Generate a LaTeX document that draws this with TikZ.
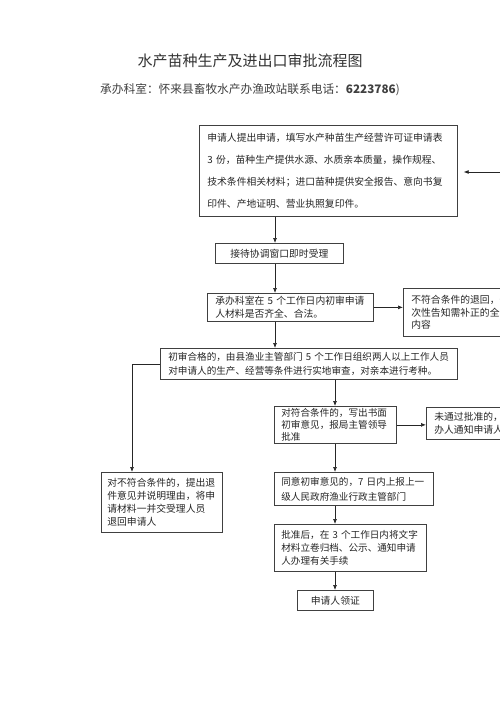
\documentclass[tikz,border=0pt]{standalone}
\usepackage{fontspec}
\setmainfont{Noto Sans CJK SC}
\usetikzlibrary{arrows.meta}
\tikzset{
  stepbox/.style={draw=black!75, line width=0.7pt, inner xsep=8pt, inner ysep=0pt,
    anchor=north west, align=left, text=black!85, font=\fontsize{9.8}{13}\selectfont},
  flow/.style={-{Latex[length=5pt,width=4pt]}, line width=0.7pt, black!85},
}
\begin{document}
\begin{tikzpicture}[x=1pt, y=-1pt]
  \useasboundingbox (0,0) rectangle (500,707);
  \fill[white] (0,0) rectangle (500,707);
  \clip (0,0) rectangle (500,707);
  \node (title) [text=black!80] at (250,61) {\fontsize{15}{15}\selectfont 水产苗种生产及进出口审批流程图};
  \node (phone) [text=black!75] at (250,90) {\fontsize{11.7}{12}\selectfont 承办科室：怀来县畜牧水产办渔政站联系电话：\textbf{6223786})};
  % main column
  \node (apply) [stepbox, text width=242pt, minimum height=91pt, font=\fontsize{9.8}{22}\selectfont] at (199,125)
        {申请人提出申请，填写水产种苗生产经营许可证申请表\\
         3~份，苗种生产提供水源、水质亲本质量，操作规程、\\
         技术条件相关材料；进口苗种提供安全报告、意向书复\\
         印件、产地证明、营业执照复印件。};
  \node (accept) [stepbox, text width=112pt, minimum height=20pt, align=center] at (215,243) {接待协调窗口即时受理};
  \node (precheck) [stepbox, text width=150pt, minimum height=28pt] at (207,293)
        {承办科室在~5~个工作日内初审申请\\ 人材料是否齐全、合法。};
  \node (reject_a) [stepbox, text width=114pt, minimum height=48pt, font=\fontsize{9.8}{12.5}\selectfont] at (403,288)
        {不符合条件的退回，一\\ 次性告知需补正的全部\\ 内容};
  \node (survey) [stepbox, text width=281pt, minimum height=31pt, font=\fontsize{9.6}{14}\selectfont] at (160,348)
        {初审合格的，由县渔业主管部门~5~个工作日组织两人以上工作人员\\
         对申请人的生产、经营等条件进行实地审查，对亲本进行考种。};
  \node (reject_b) [stepbox, inner xsep=6pt, text width=109pt, minimum height=60pt] at (101,472)
        {对不符合条件的，提出退\\ 件意见并说明理由，将申\\ 请材料一并交受理人员\\ 退回申请人};
  \node (opinion) [stepbox, inner xsep=7pt, text width=108pt, minimum height=37pt, font=\fontsize{9.6}{12}\selectfont] at (274,406)
        {对符合条件的，写出书面\\ 初审意见，报局主管领导\\ 批准};
  \node (notpass) [stepbox, text width=94pt, minimum height=32pt] at (426,407)
        {未通过批准的，由承\\ 办人通知申请人。};
  \node (report) [stepbox, inner xsep=7pt, text width=145pt, minimum height=33pt, font=\fontsize{9.6}{15}\selectfont] at (274,472)
        {同意初审意见的，7~日内上报上一\\ 级人民政府渔业行政主管部门};
  \node (archive) [stepbox, inner xsep=7pt, text width=138pt, minimum height=47pt, font=\fontsize{9.6}{13}\selectfont] at (274,524)
        {批准后，在~3~个工作日内将文字\\ 材料立卷归档、公示、通知申请\\ 人办理有关手续};
  \node (licence) [stepbox, text width=60pt, minimum height=20pt, align=center] at (297,590) {申请人领证};
  % connectors
  \coordinate (spine_a) at (275,0);
  \coordinate (spine_b) at (335,0);
  \coordinate (drop) at (132,0);
  \coordinate (feed) at (512,172);
  \draw[flow] (apply.south -| spine_a) -- (accept.north -| spine_a);
  \draw[flow] (accept.south -| spine_a) -- (precheck.north -| spine_a);
  \draw[flow] (precheck.east) -- (precheck.east -| reject_a.west);
  \draw[flow] (precheck.south -| spine_a) -- (survey.north -| spine_a);
  \draw[flow] (survey.west) -| (reject_b.north -| drop);
  \draw[flow] (survey.south -| spine_b) -- (opinion.north -| spine_b);
  \draw[flow] (opinion.east) -- (opinion.east -| notpass.west);
  \draw[flow] (opinion.south -| spine_b) -- (report.north -| spine_b);
  \draw[flow] (report.south -| spine_b) -- (archive.north -| spine_b);
  \draw[flow] (archive.south -| spine_b) -- (licence.north -| spine_b);
  \draw[flow, shorten >=6pt] (feed) -- (feed -| apply.east);
\end{tikzpicture}
\end{document}
